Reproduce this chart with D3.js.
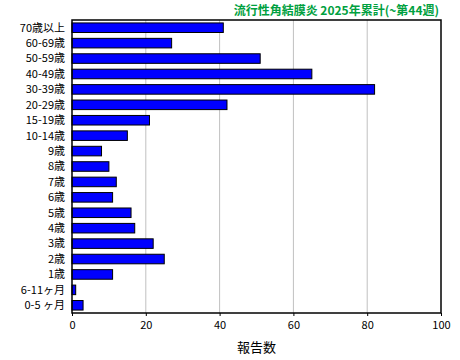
<!DOCTYPE html>
<html>
<head>
<meta charset="utf-8">
<script src="https://cdn.jsdelivr.net/npm/d3@7"></script>
<style>
  body { margin: 0; background: #fff; }
  text { font-family: "Noto Sans CJK JP", sans-serif; }
</style>
</head>
<body>
<svg width="460" height="360"></svg>
<script>
// data
const categories = ["70歳以上", "60-69歳", "50-59歳", "40-49歳", "30-39歳", "20-29歳", "15-19歳", "10-14歳",
  "9歳", "8歳", "7歳", "6歳", "5歳", "4歳", "3歳", "2歳", "1歳", "6-11ヶ月", "0-5 ヶ月"];
const counts = [41, 27, 51, 65, 82, 42, 21, 15, 8, 10, 12, 11, 16, 17, 22, 25, 11, 1, 3];
const xTicks = [0, 20, 40, 60, 80, 100];

const margin = {left: 72, right: 19, top: 20, bottom: 47};
const W = 460, H = 360;
const svg = d3.select("svg");

const x = d3.scaleLinear().domain([0, 100]).range([margin.left, W - margin.right]);
const y = d3.scaleBand().domain(categories).range([margin.top, H - margin.bottom]).paddingInner(0.38).paddingOuter(0.19);

// grid lines
svg.append("g").selectAll("line").data(xTicks.slice(1, -1)).enter().append("line")
  .attr("x1", d => x(d)).attr("x2", d => x(d))
  .attr("y1", margin.top).attr("y2", H - margin.bottom)
  .attr("stroke", "#c0c0c0").attr("stroke-width", 1);

// bars
svg.append("g").selectAll("rect").data(counts).enter().append("rect")
  .attr("x", x(0))
  .attr("y", (d, i) => y(categories[i]))
  .attr("width", d => x(d) - x(0))
  .attr("height", y.bandwidth())
  .attr("fill", "#0000ff").attr("stroke", "#000").attr("stroke-width", 1);

// frame
svg.append("rect")
  .attr("x", margin.left).attr("y", margin.top)
  .attr("width", W - margin.right - margin.left).attr("height", H - margin.bottom - margin.top)
  .attr("fill", "none").attr("stroke", "#000").attr("stroke-width", 1.5);

// x axis
const xAxis = d3.axisBottom(x).tickValues(xTicks).tickSize(3).tickPadding(5);
const gx = svg.append("g").attr("transform", `translate(0,${H - margin.bottom})`).call(xAxis);
gx.select(".domain").remove();
gx.selectAll("text").style("font-size", "11px").attr("fill", "#000");

// y labels
svg.append("g").selectAll("text").data(categories).enter().append("text")
  .attr("x", 65).attr("y", d => y(d) + y.bandwidth() / 2)
  .attr("dy", "0.35em").attr("text-anchor", "end")
  .style("font-size", "11px").text(d => d);

// axis title
svg.append("text").attr("x", (x(0) + x(100)) / 2).attr("y", 352)
  .attr("text-anchor", "middle").style("font-size", "13px").text("報告数");

// chart title
svg.append("text").attr("x", 439).attr("y", 15)
  .attr("text-anchor", "end").attr("fill", "#00a040")
  .style("font-size", "12px").style("font-weight", "bold")
  .text("流行性角結膜炎 2025年累計(~第44週)");
</script>
</body>
</html>
